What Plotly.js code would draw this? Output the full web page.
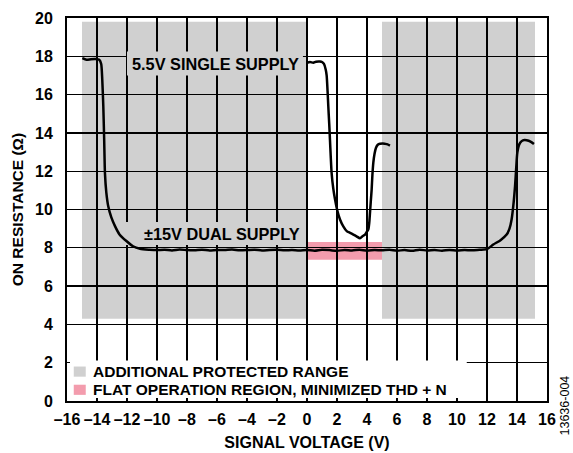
<!DOCTYPE html>
<html>
<head>
<meta charset="utf-8">
<script src="https://cdn.plot.ly/plotly-3.0.1.min.js"></script>
<style>html,body{margin:0;padding:0;background:#fff}#chart{width:573px;height:453px}</style>
</head>
<body>
<div id="chart"></div>
<script>
// ±15V dual supply on-resistance curve
const dualX = [-14.98,-14.7,-14.4,-14.1,-13.85,-13.72,-13.65,-13.58,-13.52,-13.47,-13.38,-13.25,-13.05,-12.8,-12.5,-12.02,-11.6,-11.13,-10.5,
  -10,-9.5,-9,-8.5,-8,-7.5,-7,-6.5,-6,-5.5,-5,-4.5,-4,-3.5,-3,-2.5,-2,-1.5,-1,-0.5,0,0.5,1,1.5,2,2.5,3,3.5,4,4.5,5,5.5,6,6.5,7,7.5,8,8.5,9,9.5,10,10.5,11,11.5,
  12,12.42,12.9,13.31,13.5,13.64,13.78,13.87,13.95,14.02,14.15,14.31,14.5,14.64,14.9,15.13];
const dualY = [17.9,17.82,17.85,17.86,17.82,17.6,16.8,15.4,13.6,11.9,10.9,10.17,9.6,9.13,8.7,8.34,8.08,7.95,7.9,
  7.88,7.9,7.86,7.91,7.88,7.87,7.9,7.86,7.89,7.88,7.91,7.87,7.88,7.9,7.86,7.89,7.9,7.87,7.88,7.86,7.89,7.85,7.9,7.88,7.84,7.89,7.86,7.9,7.85,7.88,7.87,7.9,7.85,7.88,7.84,7.9,7.86,7.88,7.85,7.89,7.86,7.88,7.87,7.9,
  7.93,8.17,8.4,8.69,9.0,9.48,10.4,11.22,12.2,12.96,13.4,13.57,13.63,13.62,13.55,13.42];

// 5.5V single supply on-resistance curve
const singleX = [0.0,0.2,0.42,0.6,0.87,1.0,1.13,1.25,1.31,1.37,1.42,1.48,1.53,1.58,1.64,1.75,1.87,2.02,2.2,2.42,2.65,2.87,3.09,3.3,3.53,3.7,3.87,4.0,4.09,4.15,4.2,4.25,4.31,4.36,4.42,4.5,4.6,4.72,4.87,5.05,5.2,5.37,5.53];
const singleY = [17.66,17.7,17.66,17.72,17.73,17.7,17.6,17.3,17.0,16.2,15.39,14.5,13.66,12.8,11.92,11.1,10.52,9.95,9.48,9.12,8.87,8.78,8.69,8.6,8.5,8.6,8.69,8.85,8.96,9.3,9.83,10.4,11.04,11.8,12.44,12.9,13.22,13.38,13.43,13.45,13.43,13.4,13.34];

// Regions
const protectedX0 = [-15, 5];
const protectedX1 = [0, 15.2];
const protectedY = [4.3, 19.8];
const flatX = [0, 5];
const flatY = [7.38, 8.3];

// Axes
const xTickVals = [-16,-14,-12,-10,-8,-6,-4,-2,0,2,4,6,8,10,12,14,16];
const xTickText = ['–16','–14','–12','–10','–8','–6','–4','–2','0','2','4','6','8','10','12','14','16'];
const yTickVals = [0,2,4,6,8,10,12,14,16,18,20];

const labels = ['5.5V SINGLE SUPPLY', '±15V DUAL SUPPLY'];
const legendLabels = ['ADDITIONAL PROTECTED RANGE', 'FLAT OPERATION REGION, MINIMIZED THD + N'];

const GRAY = '#d0d0d0', PINK = '#f39cad';
const FONT = 'Liberation Sans, Arial, Helvetica, sans-serif';

const traces = [
  {x: dualX, y: dualY, mode: 'lines', line: {color: '#000', width: 2.5, shape: 'spline', smoothing: 0.6}, hoverinfo: 'skip', showlegend: false},
  {x: singleX, y: singleY, mode: 'lines', line: {color: '#000', width: 2.5, shape: 'spline', smoothing: 0.6}, hoverinfo: 'skip', showlegend: false}
];

const shapes = [];
for (let i = 0; i < protectedX0.length; i++) {
  shapes.push({type: 'rect', layer: 'below', xref: 'x', yref: 'y', x0: protectedX0[i], x1: protectedX1[i], y0: protectedY[0], y1: protectedY[1], fillcolor: GRAY, line: {width: 0}});
}
shapes.push({type: 'rect', layer: 'below', xref: 'x', yref: 'y', x0: flatX[0], x1: flatX[1], y0: flatY[0], y1: flatY[1], fillcolor: PINK, line: {width: 0}});
// label masks
shapes.push({type: 'rect', layer: 'between', xref: 'x', yref: 'y', x0: -12, x1: -0.27, y0: 17.0, y1: 18.25, fillcolor: GRAY, line: {width: 0}});
shapes.push({type: 'rect', layer: 'between', xref: 'x', yref: 'y', x0: -12.4, x1: -0.3, y0: 8.15, y1: 9.35, fillcolor: GRAY, line: {width: 0}});
// legend box
shapes.push({type: 'rect', layer: 'between', xref: 'x', yref: 'y', x0: -16, x1: 10.65, y0: 0, y1: 2.12, fillcolor: '#fff', line: {width: 0}});
// legend swatches
shapes.push({type: 'rect', layer: 'between', xref: 'x', yref: 'y', x0: -15.55, x1: -14.75, y0: 1.27, y1: 1.8, fillcolor: GRAY, line: {width: 0}});
shapes.push({type: 'rect', layer: 'between', xref: 'x', yref: 'y', x0: -15.55, x1: -14.75, y0: 0.32, y1: 0.85, fillcolor: PINK, line: {width: 0}});

const bold = (size) => ({family: FONT, size: size, color: '#000', weight: 'bold'});

const annotations = [
  {text: labels[0], x: -6.1, y: 17.62, xref: 'x', yref: 'y', showarrow: false, font: bold(16.3), xanchor: 'center', yanchor: 'middle'},
  {text: labels[1], x: -5.65, y: 8.72, xref: 'x', yref: 'y', showarrow: false, font: bold(16.3), xanchor: 'center', yanchor: 'middle'},
  {text: legendLabels[0], x: -14.4, y: 1.53, xref: 'x', yref: 'y', showarrow: false, font: bold(15.5), xanchor: 'left', yanchor: 'middle'},
  {text: legendLabels[1], x: -14.4, y: 0.58, xref: 'x', yref: 'y', showarrow: false, font: bold(15.5), xanchor: 'left', yanchor: 'middle'},
  {text: '13636-004', x: (565 - 67) / 480, y: (401.5 - 406) / 383.5, xref: 'paper', yref: 'paper', showarrow: false,
   font: {family: FONT, size: 12.5, color: '#000'}, textangle: -90, xanchor: 'center', yanchor: 'middle'}
];

const layout = {
  width: 573, height: 453,
  margin: {l: 67, r: 26, t: 18, b: 51.5, pad: 0},
  paper_bgcolor: '#fff', plot_bgcolor: '#fff',
  font: {family: FONT, color: '#000'},
  xaxis: {
    range: [-16, 16], tickmode: 'array', tickvals: xTickVals, ticktext: xTickText,
    showgrid: true, gridcolor: '#000', gridwidth: 1.3, zeroline: false,
    showline: true, mirror: true, linecolor: '#000', linewidth: 2,
    ticks: 'inside', ticklen: 3, tickcolor: '#000', tickwidth: 1.3,
    ticklabelstandoff: 3,
    tickfont: bold(16),
    title: {text: 'SIGNAL VOLTAGE (V)', font: bold(16), standoff: 10}
  },
  yaxis: {
    range: [0, 20], tickmode: 'array', tickvals: yTickVals,
    showgrid: true, gridcolor: '#000', gridwidth: 1.3, zeroline: false,
    showline: true, mirror: true, linecolor: '#000', linewidth: 2,
    ticks: 'inside', ticklen: 3, tickcolor: '#000', tickwidth: 1.3,
    ticklabelstandoff: 9,
    tickfont: bold(16),
    title: {text: 'ON RESISTANCE (Ω)', font: bold(15.5), standoff: 8}
  },
  shapes: shapes,
  annotations: annotations,
  showlegend: false
};

Plotly.newPlot('chart', traces, layout, {staticPlot: true, displayModeBar: false});
</script>
</body>
</html>
